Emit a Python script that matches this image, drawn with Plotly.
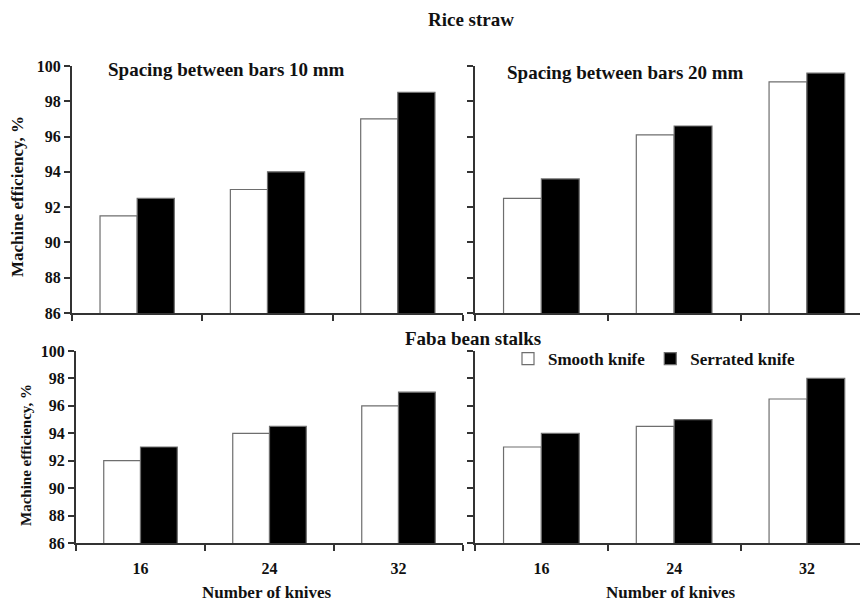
import plotly.graph_objects as go

# Number of knives on the drum
knives = ["16", "24", "32"]

# Machine efficiency (%) — rice straw
rice_10_smooth = [91.5, 93.0, 97.0]
rice_10_serrated = [92.5, 94.0, 98.5]
rice_20_smooth = [92.5, 96.1, 99.1]
rice_20_serrated = [93.6, 96.6, 99.6]

# Machine efficiency (%) — faba bean stalks
faba_10_smooth = [92.0, 94.0, 96.0]
faba_10_serrated = [93.0, 94.5, 97.0]
faba_20_smooth = [93.0, 94.5, 96.5]
faba_20_serrated = [94.0, 95.0, 98.0]

y_ticks = [86, 88, 90, 92, 94, 96, 98, 100]

W, H = 860, 603
SERIF = "Liberation Serif"
INK = "#111111"
AXIS = "#333333"


def px_x(p):
    return p / W


def px_y(p):
    return 1 - p / H


fig = go.Figure()

panels = [
    ("x", "y", rice_10_smooth, rice_10_serrated),
    ("x2", "y2", rice_20_smooth, rice_20_serrated),
    ("x3", "y3", faba_10_smooth, faba_10_serrated),
    ("x4", "y4", faba_20_smooth, faba_20_serrated),
]

for i, (xa, ya, smooth, serrated) in enumerate(panels):
    fig.add_trace(go.Bar(
        x=knives, y=smooth, xaxis=xa, yaxis=ya,
        name="Smooth knife", legendgroup="smooth", showlegend=(i == 0),
        marker=dict(color="white", line=dict(color="#6e6e6e", width=1.2)),
    ))
    fig.add_trace(go.Bar(
        x=knives, y=serrated, xaxis=xa, yaxis=ya,
        name="Serrated knife", legendgroup="serrated", showlegend=(i == 0),
        marker=dict(color="black", line=dict(color="#6e6e6e", width=1.2)),
    ))

tick_font = dict(family=SERIF, size=16, color=INK, weight="bold")

xcommon = dict(
    type="category", showgrid=False, zeroline=False,
    showline=True, linecolor=AXIS, linewidth=2,
    ticks="outside", tickson="boundaries", ticklen=6, tickwidth=1.5,
    tickcolor=AXIS, tickfont=tick_font, automargin=False,
    ticklabelstandoff=10,
)
ycommon = dict(
    range=[86, 100], tickvals=y_ticks, showgrid=False, zeroline=False,
    showline=True, linecolor=AXIS, linewidth=2,
    ticks="outside", ticklen=6, tickwidth=1.5, tickcolor=AXIS,
    tickfont=tick_font, automargin=False,
)

top_dom = [px_y(313), px_y(66)]
bot_dom = [px_y(543), px_y(351)]

fig.update_layout(
    xaxis=dict(xcommon, domain=[px_x(72), px_x(463)], range=[-0.5, 2.5],
               anchor="y", showticklabels=False),
    yaxis=dict(ycommon, domain=top_dom, anchor="x"),
    xaxis2=dict(xcommon, domain=[px_x(475), 1.0], range=[-0.5, 2.4],
                anchor="y2", showticklabels=False),
    yaxis2=dict(ycommon, domain=top_dom, anchor="x2", showticklabels=False),
    xaxis3=dict(xcommon, domain=[px_x(76), px_x(463)], range=[-0.5, 2.5],
                anchor="y3"),
    yaxis3=dict(ycommon, domain=bot_dom, anchor="x3"),
    xaxis4=dict(xcommon, domain=[px_x(475), 1.0], range=[-0.5, 2.4],
                anchor="y4"),
    yaxis4=dict(ycommon, domain=bot_dom, anchor="x4", showticklabels=False),
)

fig.update_layout(
    width=W, height=H,
    margin=dict(l=0, r=0, t=0, b=0),
    paper_bgcolor="white", plot_bgcolor="white",
    barmode="group", bargap=0.43, bargroupgap=0,
    font=dict(family=SERIF, color=INK),
    legend=dict(
        orientation="h", x=px_x(508), y=px_y(359), xanchor="left",
        yanchor="middle", bgcolor="rgba(0,0,0,0)",
        font=dict(family=SERIF, size=17, color=INK, weight="bold"),
        itemwidth=30, traceorder="normal",
    ),
)


def note(text, x, y, size, angle=0, xanchor="center"):
    fig.add_annotation(
        text=text, x=px_x(x), y=px_y(y), xref="paper", yref="paper",
        xanchor=xanchor, yanchor="middle", showarrow=False, textangle=angle,
        font=dict(family=SERIF, size=size, color=INK, weight="bold"),
    )


note("Rice straw", 471, 20, 19)
note("Faba bean stalks", 473, 338, 19)
note("Spacing between bars 10 mm", 106, 69, 19, xanchor="left")
note("Spacing between bars 20 mm", 505, 72, 19, xanchor="left")
note("Machine efficiency, %", 18, 197, 17, angle=-90)
note("Machine efficiency, %", 26, 455, 15, angle=-90)
note("Number of knives", 266, 592, 17)
note("Number of knives", 670, 592, 17)

fig.write_html("out.html")
